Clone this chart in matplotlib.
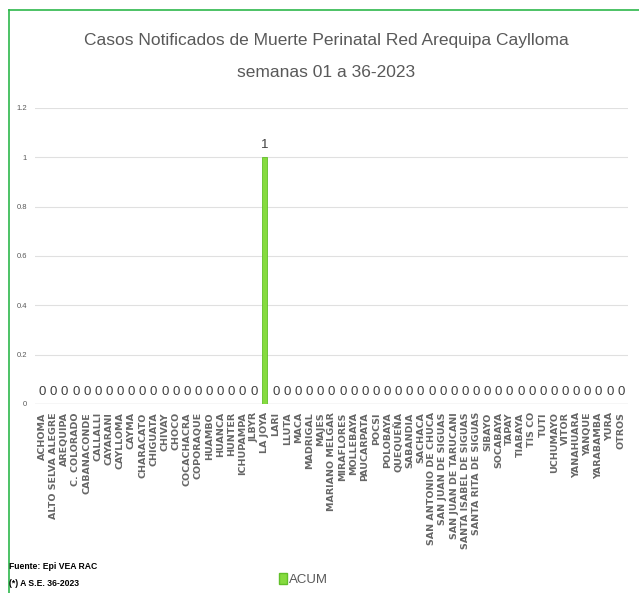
import matplotlib

matplotlib.use("Agg")
import matplotlib.pyplot as plt
from matplotlib.lines import Line2D
from matplotlib.patches import Patch
import numpy as np

NARROW = ["Liberation Sans", "DejaVu Sans"]

districts = [
    "ACHOMA", "ALTO SELVA ALEGRE", "AREQUIPA", "C. COLORADO", "CABANACONDE",
    "CALLALLI", "CAYARANI", "CAYLLOMA", "CAYMA", "CHARACATO", "CHIGUATA",
    "CHIVAY", "CHOCO", "COCACHACRA", "COPORAQUE", "HUAMBO", "HUANCA",
    "HUNTER", "ICHUPAMPA", "JLBYR", "LA JOYA", "LARI", "LLUTA", "MACA",
    "MADRIGAL", "MAJES", "MARIANO MELGAR", "MIRAFLORES", "MOLLEBAYA",
    "PAUCARPATA", "POCSI", "POLOBAYA", "QUEQUEÑA", "SABANDIA", "SACHACA",
    "SAN ANTONIO DE CHUCA", "SAN JUAN DE SIGUAS", "SAN JUAN DE TARUCANI",
    "SANTA ISABEL DE SIGUAS", "SANTA RITA DE SIGUAS", "SIBAYO", "SOCABAYA",
    "TAPAY", "TIABAYA", "TIS CO", "TUTI", "UCHUMAYO", "VITOR", "YANAHUARA",
    "YANQUE", "YARABAMBA", "YURA", "OTROS",
]
acum = [0] * len(districts)
acum[districts.index("LA JOYA")] = 1

yticks = [0, 0.2, 0.4, 0.6, 0.8, 1, 1.2]
ytick_labels = ["0", "0.2", "0.4", "0.6", "0.8", "1", "1.2"]

fig = plt.figure(figsize=(6.39, 5.93), dpi=100)
ax = fig.add_axes([0.055, 0.319, 0.928, 0.499])

x = np.arange(len(districts))
ax.bar(x, acum, width=0.45, color="#86DB3F", edgecolor="#62BF2A",
       lw=0.6, zorder=3)
for xi, v in zip(x, acum):
    ax.text(xi, v + 0.025, str(v), ha="center", va="bottom", fontsize=9.5,
            family=NARROW, color="#404040")

ax.set_xlim(-0.65, len(districts) - 0.35)
ax.set_ylim(0, 1.2)
ax.set_yticks(yticks)
ax.set_yticklabels(ytick_labels, fontsize=5.5, color="#595959", family=NARROW)
ax.yaxis.grid(True, color="#E0E0E0", lw=0.8, zorder=0)
ax.set_xticks(x)
ax.set_xticklabels(districts, rotation=90, fontsize=6.8, fontweight="bold",
                   color="#666666")
ax.tick_params(axis="both", length=0, pad=6)
for s in ax.spines.values():
    s.set_visible(False)
ax.axhline(0, color="#E0E0E0", lw=1.0, zorder=1)

fig.text(0.51, 0.932, "Casos Notificados de Muerte Perinatal Red Arequipa Caylloma",
         ha="center", va="center", fontsize=12.5, color="#595959", family=NARROW)
fig.text(0.51, 0.877, "semanas 01 a 36-2023", ha="center", va="center",
         fontsize=12.5, color="#595959", family=NARROW)

fig.text(0.014, 0.044, "Fuente: Epi VEA RAC", fontsize=6.2, fontweight="bold",
         family=NARROW, va="center")
fig.text(0.014, 0.016, "(*) A S.E. 36-2023", fontsize=6.2, fontweight="bold",
         family=NARROW, va="center")

fig.legend(handles=[Patch(facecolor="#86DB3F", edgecolor="#62BF2A", label="ACUM")],
           loc="center", bbox_to_anchor=(0.475, 0.022), frameon=False,
           handlelength=0.6, handleheight=0.9, handletextpad=0.2,
           prop={"family": NARROW, "size": 9.5}, labelcolor="#595959")

# green frame
fx, fy = 8.5 / 639, 1 - 10 / 593
fig.add_artist(Line2D([fx, fx], [0, fy], transform=fig.transFigure,
                      color="#2DB84B", lw=1.2))
fig.add_artist(Line2D([fx, 1], [fy, fy], transform=fig.transFigure,
                      color="#2DB84B", lw=1.2))

fig.savefig("out.png", dpi=100)
